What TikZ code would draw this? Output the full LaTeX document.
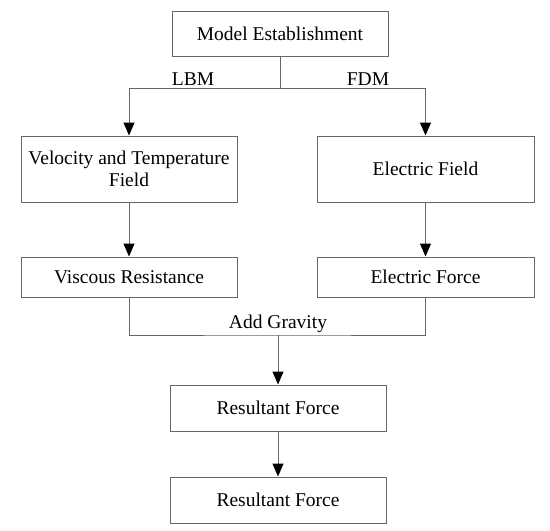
\documentclass[tikz,border=0pt]{standalone}
\usepackage{fontspec}
\setmainfont{Liberation Serif}
\usetikzlibrary{arrows.meta}
\tikzset{
  stepbox/.style={draw=black!60,line width=1pt,minimum width=216pt,inner sep=0pt,
    align=center,font=\fontsize{19.5}{22}\selectfont},
  link/.style={draw=black!60,line width=1pt},
  arr/.style={link,-{Triangle[width=11pt,length=13pt,color=black,fill=black]}},
  tag/.style={font=\fontsize{19.5}{22}\selectfont}
}
\begin{document}
\begin{tikzpicture}[x=1pt,y=-1pt]
  \useasboundingbox (0,0) rectangle (550,531);
  % Boxes
  \node[stepbox,minimum height=45pt] (model) at (280,33.5) {Model Establishment};
  \node[stepbox,minimum height=66pt] (vel) at (129,169) {Velocity and Temperature\\Field};
  \node[stepbox,minimum height=66pt,minimum width=217pt] (efield) at (425.5,169) {Electric Field};
  \node[stepbox,minimum height=40pt] (visc) at (129,277) {Viscous Resistance};
  \node[stepbox,minimum height=40pt,minimum width=217pt] (eforce) at (425.5,277) {Electric Force};
  \node[stepbox,minimum height=46pt] (res) at (278,408) {Resultant Force};
  \node[stepbox,minimum height=46pt] (resout) at (278,500) {Resultant Force};
  % Split after the model
  \coordinate (split) at (280,88);
  \draw[link] (model) -- (split);
  \draw[arr] (split) -| (vel);
  \draw[arr] (split) -| (efield);
  \node[tag] (lbm) at (193,79) {LBM};
  \node[tag] (fdm) at (368,79) {FDM};
  % Fields to forces
  \draw[arr] (vel) -- (visc);
  \draw[arr] (efield) -- (eforce);
  % Join and gravity
  \coordinate (join) at (278,335);
  \draw[link] (visc) |- (join) -| (eforce);
  \node[tag] (grav) at (278,324) {Add Gravity};
  \draw[arr] (join) -- (res);
  \draw[arr] (res) -- (resout);
\end{tikzpicture}
\end{document}
